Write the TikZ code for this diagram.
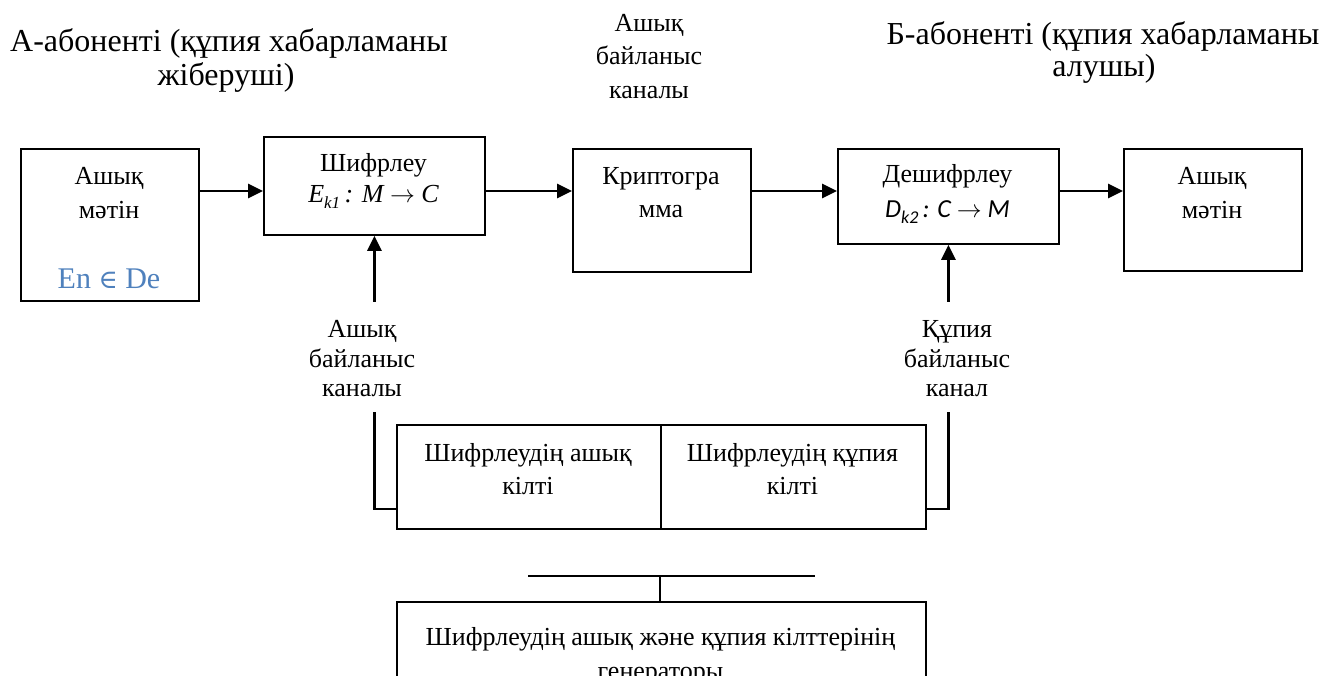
\documentclass[tikz,border=0pt]{standalone}
\usepackage{fontspec}
\setmainfont{Liberation Serif}
\newfontfamily\carl{Carlito}
\newfontfamily\dvs{DejaVu Serif}
\usetikzlibrary{arrows.meta}
\definecolor{enblue}{RGB}{79,129,189}
\begin{document}
\begin{tikzpicture}[x=1pt,y=-1pt,
  box/.style={draw, line width=1.8pt, inner sep=0pt, anchor=north west},
  arr/.style={line width=2.6pt, -{Triangle[length=15pt,width=14pt]}},
  ln/.style={line width=2.2pt},
  thin/.style={line width=1.8pt},
  tx/.style={font=\fontsize{26}{30}\selectfont, inner sep=0pt, anchor=base},
  hd/.style={font=\fontsize{32}{36}\selectfont, inner sep=0pt, anchor=base},
]
\clip (0,0) rectangle (1326,676);
\fill[white] (0,0) rectangle (1326,676);

% headers
\node[hd] (hl1) at (229,52) {А-абоненті (құпия хабарламаны};
\node[hd] (hl2) at (226,86) {жіберуші)};
\node[tx] (hm1) at (649,32) {Ашық};
\node[tx] (hm2) at (649,65) {байланыс};
\node[tx] (hm3) at (649,99) {каналы};
\node[hd] (hr1) at (1103,45) {Б-абоненті (құпия хабарламаны};
\node[hd] (hr2) at (1104,77) {алушы)};

% main boxes
\node[box, minimum width=178pt, minimum height=152pt] (b1) at (20,148) {};
\node[box, minimum width=221pt, minimum height=98pt] (b2) at (263,136) {};
\node[box, minimum width=178pt, minimum height=123pt] (b3) at (572,148) {};
\node[box, minimum width=221pt, minimum height=95pt] (b4) at (837,148) {};
\node[box, minimum width=178pt, minimum height=122pt] (b5) at (1123,148) {};

% box texts
\node[tx] (t11) at (109,185) {Ашық};
\node[tx] (t12) at (109,219) {мәтін};
\node[tx, font=\fontsize{30}{32}\selectfont, text=enblue] (t13) at (109,289) {En {\dvs\fontsize{26}{30}\selectfont ∈} De};
\node[tx] (t21) at (373.5,172) {Шифрлеу};
\node[tx] (t22) at (373.5,203) {\itshape E\raisebox{-0.22em}{\fontsize{17}{17}\selectfont k1}\,: M $\rightarrow$ C};
\node[tx] (t31) at (661,185) {Криптогра};
\node[tx] (t32) at (661,218) {мма};
\node[tx] (t41) at (947.5,183) {Дешифрлеу};
\node[tx] (t42) at (947.5,218) {\carl\itshape D\raisebox{-0.22em}{\fontsize{18}{18}\selectfont k2}\,: C $\rightarrow$ M};
\node[tx] (t51) at (1212,185) {Ашық};
\node[tx] (t52) at (1212,219) {мәтін};

% horizontal arrows
\coordinate (row) at (0,191);
\draw[arr] (b1.east |- row) -- (b2.west |- row);
\draw[arr] (b2.east |- row) -- (b3.west |- row);
\draw[arr] (b3.east |- row) -- (b4.west |- row);
\draw[arr] (b4.east |- row) -- (b5.west |- row);

% up arrows
\coordinate (abot) at (0,302);
\draw[arr] (b2.south |- abot) -- (b2.south);
\draw[arr] (b4.south |- abot) -- (b4.south);

% channel labels
\node[tx] (l1) at (362,338) {Ашық};
\node[tx] (l2) at (362,367) {байланыс};
\node[tx] (l3) at (362,396) {каналы};
\node[tx] (r1) at (957,338) {Құпия};
\node[tx] (r2) at (957,367) {байланыс};
\node[tx] (r3) at (957,396) {канал};

% key boxes
\node[box, minimum width=264pt, minimum height=104pt] (kl) at (396,424) {};
\node[box, minimum width=265pt, minimum height=104pt] (kr) at (660,424) {};
\node[tx] (k11) at (528,461) {Шифрлеудің ашық};
\node[tx] (k12) at (528,494) {кілті};
\node[tx] (k21) at (792.5,461) {Шифрлеудің құпия};
\node[tx] (k22) at (792.5,494) {кілті};

% brackets
\coordinate (btop) at (0,412);
\coordinate (bbot) at (0,509);
\draw[ln] (b2.south |- btop) -- (b2.south |- bbot) -- (kl.west |- bbot);
\draw[ln] (b4.south |- btop) -- (b4.south |- bbot) -- (kr.east |- bbot);

% generator
\node[box, minimum width=529pt, minimum height=140pt] (gen) at (396,601) {};
\coordinate (gl) at (528,576);
\coordinate (gr) at (815,576);
\draw[thin] (gl) -- (gr);
\draw[thin] (kr.south west |- gl) -- (kr.south west |- gen.north);
\node[tx] (g1) at (660.5,645) {Шифрлеудің ашық және құпия кілттерінің};
\node[tx] (g2) at (660.5,679) {генераторы};
\end{tikzpicture}
\end{document}
